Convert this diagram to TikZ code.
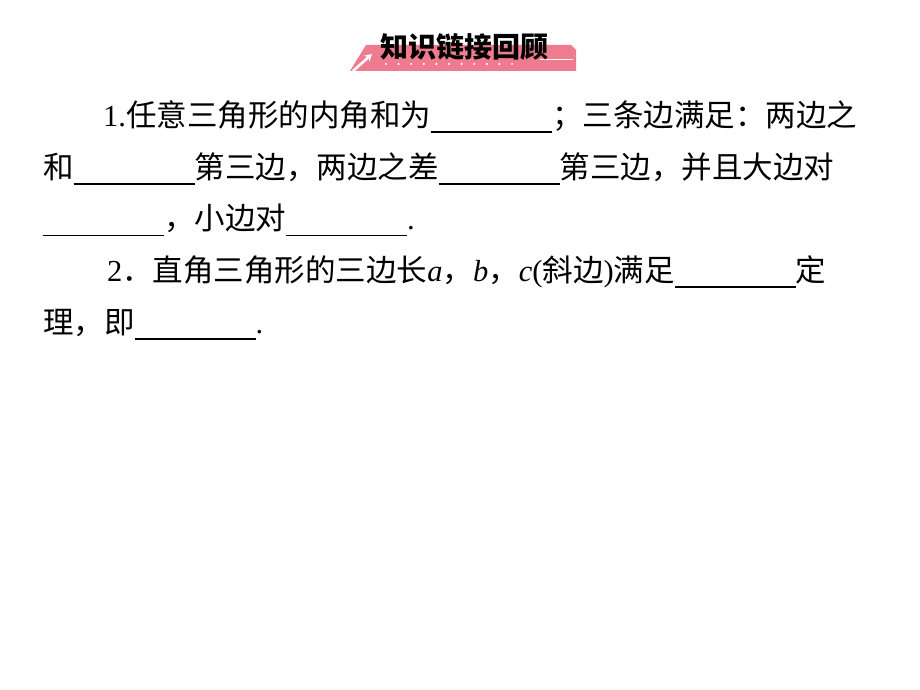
\documentclass[tikz,border=0pt]{standalone}
\usepackage{fontspec}
\setmainfont{Noto Sans CJK SC}
\newfontfamily\tnr{Liberation Serif}
\usetikzlibrary{arrows.meta}
\definecolor{bannerpink}{RGB}{238,124,142}
\newcommand{\blank}{\rule[-6.5pt]{121pt}{1.5pt}}
\tikzset{
  textline/.style={anchor=base west,inner sep=0pt,font=\fontsize{30.5}{30.5}\selectfont},
  dot/.style={circle,fill=white,inner sep=0pt,minimum size=2.4pt}
}

\begin{document}
\begin{tikzpicture}[x=1pt,y=-1pt]

\useasboundingbox[fill=white] (0,0) rectangle (920,690);

\fill[bannerpink] (350,71) -- (366,45) -- (571,45) -- (576,50) -- (576,71) -- cycle;
\draw[white,line width=2.6pt,-{Stealth[length=7pt,width=8pt]}] (353,71) -- (372,54);
\draw[white,line width=0.8pt] (540,59) -- (573,59);
\foreach \i in {0,...,10}
  \node[dot] (d\i) at (386+12.6*\i,64) {};

\node[anchor=base,inner sep=0pt,font=\fontsize{28}{28}\selectfont\bfseries] (title) at (464,58) {知识链接回顾};

\node[textline] (l1) at (103,126) {{\tnr 1.}任意三角形的内角和为\blank；三条边满足：两边之};
\node[textline] (l2) at (43,178) {和\blank{}第三边，两边之差\blank{}第三边，并且大边对};
\node[textline] (l3) at (43,229.5) {\blank，小边对\blank{\tnr .}};
\node[textline] (l4) at (107,281) {{\tnr 2}．直角三角形的三边长{\tnr\itshape a}，{\tnr\itshape b}，{\tnr\itshape c}{\tnr (}斜边{\tnr )}满足\blank{}定};
\node[textline] (l5) at (43,333) {理，即\blank{\tnr .}};

\end{tikzpicture}
\end{document}
